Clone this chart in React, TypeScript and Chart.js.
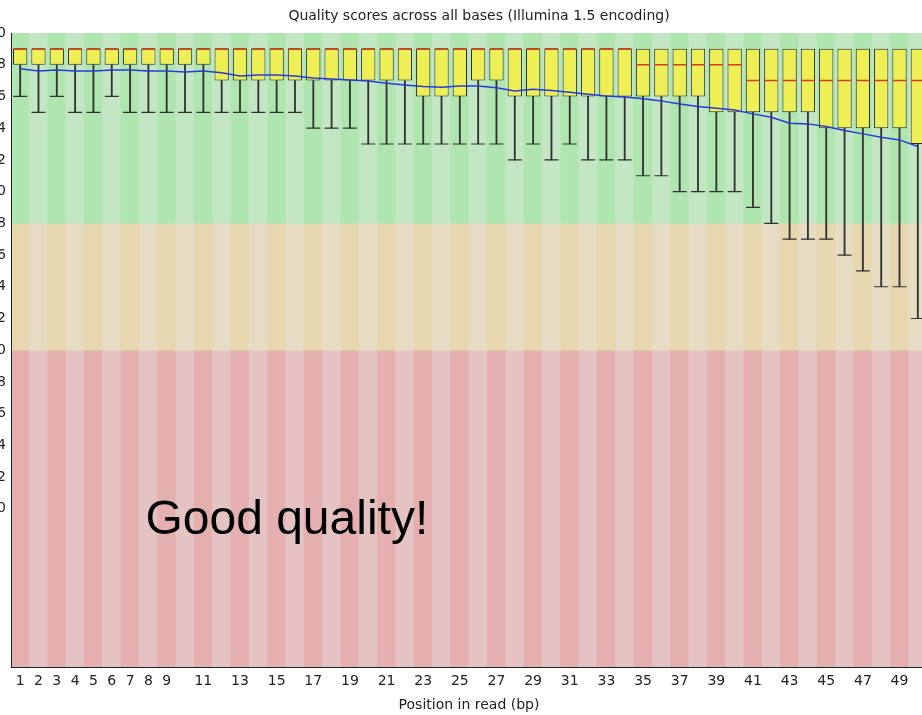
import React, { useEffect, useRef } from 'react';
import { Chart, registerables } from 'chart.js';

Chart.register(...registerables);

// Read positions (bp)
const positions = [
  1, 2, 3, 4, 5, 6, 7, 8, 9, 10, 11, 12, 13, 14, 15, 16, 17, 18, 19, 20, 21, 22, 23, 24, 25,
  26, 27, 28, 29, 30, 31, 32, 33, 34, 35, 36, 37, 38, 39, 40, 41, 42, 43, 44, 45, 46, 47, 48, 49, 50,
];

// Tick labels that are shown
const xTickLabels = [1, 2, 3, 4, 5, 6, 7, 8, 9, 11, 13, 15, 17, 19, 21, 23, 25, 27, 29, 31, 33, 35, 37, 39, 41, 43, 45, 47, 49];
const yTickLabels = [10, 12, 14, 16, 18, 20, 22, 24, 26, 28, 30, 32, 34, 36, 38, 40];

// Quality band edges: red 0-20, orange 20-28, green 28-40
const bandEdges = [0, 20, 28, 40];

// Box plot statistics per position
const upperQuartile = [
  39, 39, 39, 39, 39, 39, 39, 39, 39, 39, 39, 39, 39, 39, 39, 39, 39, 39, 39, 39, 39, 39, 39, 39, 39,
  39, 39, 39, 39, 39, 39, 39, 39, 39, 39, 39, 39, 39, 39, 39, 39, 39, 39, 39, 39, 39, 39, 39, 39, 39,
];
const lowerQuartile = [
  38, 38, 38, 38, 38, 38, 38, 38, 38, 38, 38, 37, 37, 37, 37, 37, 37, 37, 37, 37, 37, 37, 36, 36, 36,
  37, 37, 36, 36, 36, 36, 36, 36, 36, 36, 36, 36, 36, 35, 35, 35, 35, 35, 35, 34, 34, 34, 34, 34, 33,
];
const median = [
  39, 39, 39, 39, 39, 39, 39, 39, 39, 39, 39, 39, 39, 39, 39, 39, 39, 39, 39, 39, 39, 39, 39, 39, 39,
  39, 39, 39, 39, 39, 39, 39, 39, 39, 38, 38, 38, 38, 38, 38, 37, 37, 37, 37, 37, 37, 37, 37, 37, 37,
];
const lowerWhisker = [
  36, 35, 36, 35, 35, 36, 35, 35, 35, 35, 35, 35, 35, 35, 35, 35, 34, 34, 34, 33, 33, 33, 33, 33, 33,
  33, 33, 32, 33, 32, 33, 32, 32, 32, 31, 31, 30, 30, 30, 30, 29, 28, 27, 27, 27, 26, 25, 24, 24, 22,
];
const meanQuality = [
  37.75, 37.6, 37.67, 37.6, 37.6, 37.67, 37.67, 37.6, 37.6, 37.54,
  37.6, 37.5, 37.29, 37.35, 37.35, 37.29, 37.17, 37.1, 37.04, 36.98,
  36.83, 36.72, 36.62, 36.58, 36.66, 36.66, 36.55, 36.35, 36.45, 36.37,
  36.26, 36.14, 36.03, 35.97, 35.86, 35.72, 35.53, 35.36, 35.26, 35.15,
  34.9, 34.69, 34.31, 34.27, 34.1, 33.85, 33.64, 33.43, 33.26, 32.84,
];

const chartTitle = 'Quality scores across all bases (Illumina 1.5 encoding)';
const xAxisTitle = 'Position in read (bp)';
const noteText = 'Good quality!';
const noteAnchor = { index: 7, value: 8.4 };

const FONT = '"DejaVu Sans", Verdana, sans-serif';

export default function App() {
  const ref = useRef<HTMLCanvasElement | null>(null);

  useEffect(() => {
    if (!ref.current) return;
    const labels = positions.map(String);
    const stripe = (dark: string, light: string) => positions.map((_, i) => (i % 2 === 0 ? dark : light));
    const band = (lo: number, hi: number, dark: string, light: string) => ({
      type: 'bar' as const,
      data: positions.map(() => [lo, hi]),
      backgroundColor: stripe(dark, light),
      borderWidth: 0,
      grouped: false,
      barPercentage: 1,
      categoryPercentage: 1,
      order: 10,
    });

    const notePlugin = {
      id: 'noteText',
      afterDatasetsDraw(chart: any) {
        const { ctx, scales } = chart;
        const x = scales.x.getPixelForValue(noteAnchor.index) - 3;
        const y = scales.y.getPixelForValue(noteAnchor.value);
        ctx.save();
        ctx.font = '48px "Liberation Sans", Arial, sans-serif';
        ctx.fillStyle = '#000';
        ctx.textAlign = 'left';
        ctx.textBaseline = 'alphabetic';
        ctx.fillText(noteText, x, y);
        ctx.restore();
      },
    };

    const chart = new Chart(ref.current, {
      type: 'bar',
      data: {
        labels,
        datasets: [
          band(bandEdges[2], bandEdges[3], 'rgb(175,230,175)', 'rgb(195,230,195)'),
          band(bandEdges[1], bandEdges[2], 'rgb(230,215,175)', 'rgb(230,220,195)'),
          band(bandEdges[0], bandEdges[1], 'rgb(230,175,175)', 'rgb(230,195,195)'),
          {
            type: 'bar',
            data: positions.map((_, i) => [lowerWhisker[i], lowerQuartile[i]]),
            backgroundColor: '#333',
            borderWidth: 0,
            grouped: false,
            barThickness: 1.2,
            order: 6,
          },
          {
            type: 'bar',
            data: positions.map((_, i) => [lowerQuartile[i], upperQuartile[i]]),
            backgroundColor: 'rgb(238,238,85)',
            borderColor: '#2a2a2a',
            borderWidth: 1,
            borderSkipped: false,
            grouped: false,
            barPercentage: 0.78,
            categoryPercentage: 1,
            order: 5,
          },
          {
            type: 'line',
            data: lowerWhisker,
            showLine: false,
            pointStyle: 'line',
            pointRadius: 7,
            pointHoverRadius: 7,
            borderColor: '#333',
            pointBorderWidth: 1.2,
            order: 4,
          },
          {
            type: 'line',
            data: median,
            showLine: false,
            pointStyle: 'line',
            pointRadius: 6.6,
            pointHoverRadius: 6.6,
            borderColor: 'rgb(215,60,35)',
            pointBorderWidth: 1.5,
            order: 3,
          },
          {
            type: 'line',
            data: meanQuality,
            borderColor: 'rgb(40,60,215)',
            borderWidth: 1.5,
            pointRadius: 0,
            tension: 0,
            fill: false,
            order: 1,
          },
        ] as any,
      },
      options: {
        animation: false,
        responsive: true,
        maintainAspectRatio: false,
        events: [],
        layout: { padding: 0 },
        plugins: {
          legend: { display: false },
          tooltip: { enabled: false },
          title: {
            display: true,
            text: chartTitle,
            color: '#222',
            font: { family: FONT, size: 14, weight: 'normal' },
            padding: { top: 7.6, bottom: 8.6 },
          },
        },
        scales: {
          x: {
            type: 'category',
            offset: true,
            grid: { display: false, drawTicks: false },
            border: { display: true, color: '#222', width: 1, z: 1 },
            ticks: {
              autoSkip: false,
              maxRotation: 0,
              minRotation: 0,
              padding: 5.6,
              color: '#222',
              font: { family: FONT, size: 14 },
              callback: function (this: any, value: any) {
                const lab = Number(this.getLabelForValue(value));
                return xTickLabels.includes(lab) ? String(lab) : '';
              },
            },
            title: {
              display: true,
              text: xAxisTitle,
              color: '#222',
              font: { family: FONT, size: 14 },
              padding: { top: 1.2, bottom: 1.6 },
            },
          },
          y: {
            type: 'linear',
            position: 'left',
            min: 0,
            max: 40,
            grid: { display: false, drawTicks: false },
            border: { display: true, color: '#222', width: 1, z: 1 },
            ticks: {
              stepSize: 2,
              padding: 5,
              color: '#222',
              font: { family: FONT, size: 14 },
              callback: (value: any) => (yTickLabels.includes(Number(value)) ? String(value) : ''),
            },
            afterFit: (scale: any) => {
              scale.width = 30;
            },
          },
          y2: {
            type: 'linear',
            position: 'right',
            display: true,
            grid: { display: false, drawTicks: false },
            border: { display: false },
            ticks: { display: false },
            afterFit: (scale: any) => {
              scale.width = 50;
            },
          },
        },
      } as any,
      plugins: [notePlugin],
    });

    return () => chart.destroy();
  }, []);

  return (
    <div
      style={{
        position: 'fixed',
        left: 0,
        top: 0,
        width: 922,
        height: 715,
        overflow: 'hidden',
        background: '#fff',
      }}
    >
      <div style={{ position: 'absolute', left: -19, top: 0, width: 996, height: 715 }}>
        <canvas ref={ref} />
      </div>
    </div>
  );
}
